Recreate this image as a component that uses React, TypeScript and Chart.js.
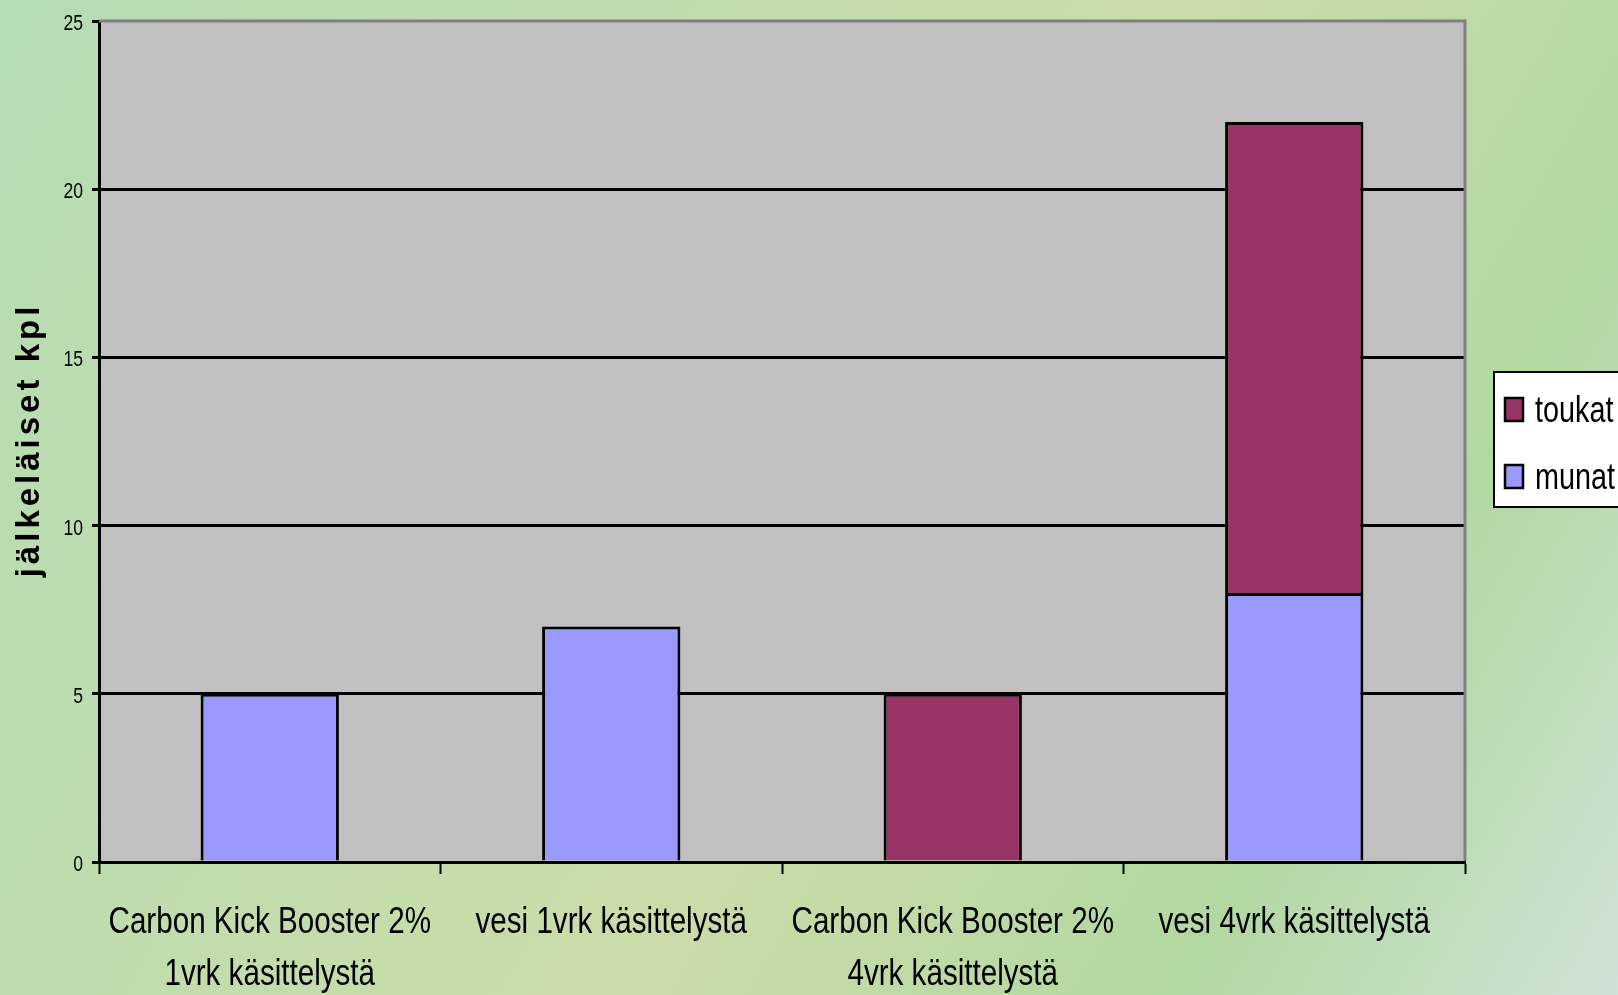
import React, { useEffect, useRef } from "react";
import { Chart, registerables } from "chart.js";

Chart.register(...registerables);

const categories: (string | string[])[] = [
  ["Carbon Kick Booster 2%", "1vrk käsittelystä"],
  "vesi 1vrk käsittelystä",
  ["Carbon Kick Booster 2%", "4vrk käsittelystä"],
  "vesi 4vrk käsittelystä",
];
const munat = [5, 7, 0, 8];
const toukat = [0, 0, 5, 14];
const yTitle = "jälkeläiset kpl";
const yMin = 0;
const yMax = 25;
const yStep = 5;

const FONT = "'Liberation Sans', Arial, sans-serif";
const SQUEEZE = 0.8;

function condensedText(ctx: CanvasRenderingContext2D, text: string, x: number, y: number, align: CanvasTextAlign) {
  ctx.save();
  ctx.translate(x, y);
  ctx.scale(SQUEEZE, 1);
  ctx.textAlign = align;
  ctx.fillText(text, 0, 0);
  ctx.restore();
}

const plotDecor = {
  id: "plotDecor",
  beforeDraw(chart: any) {
    const { ctx, chartArea: a } = chart;
    ctx.save();
    ctx.fillStyle = "#C0C0C0";
    ctx.fillRect(a.left, a.top, a.right - a.left, a.bottom - a.top);
    ctx.restore();
  },
  afterDraw(chart: any) {
    const { ctx, chartArea: a } = chart;
    ctx.save();
    ctx.strokeStyle = "#808080";
    ctx.lineWidth = 3;
    ctx.beginPath();
    ctx.moveTo(a.left, a.top);
    ctx.lineTo(a.right, a.top);
    ctx.lineTo(a.right, a.bottom - 1);
    ctx.stroke();

    // x tick labels (condensed)
    const xs = chart.scales.x;
    ctx.fillStyle = "#000";
    ctx.font = `37px ${FONT}`;
    ctx.textBaseline = "alphabetic";
    (chart.data.labels as any[]).forEach((lab: any, i: number) => {
      const lines = Array.isArray(lab) ? lab : [lab];
      const x = xs.getPixelForTick(i);
      lines.forEach((ln: string, j: number) => {
        condensedText(ctx, ln, x, a.bottom + 71 + j * 52, "center");
      });
    });

    // y tick labels (condensed)
    const ys = chart.scales.y;
    ctx.font = `22px ${FONT}`;
    ys.ticks.forEach((t: any, i: number) => {
      const y = ys.getPixelForTick(i);
      condensedText(ctx, String(t.value), a.left - 16, y + 9, "right");
    });

    // y title
    ctx.save();
    ctx.translate(30, 440);
    ctx.rotate(-Math.PI / 2);
    ctx.font = `bold 33px ${FONT}`;
    (ctx as any).letterSpacing = "4px";
    ctx.fillStyle = "#000";
    ctx.textAlign = "center";
    ctx.textBaseline = "middle";
    ctx.fillText(yTitle, 0, 0);
    ctx.restore();

    // legend
    const lx = 1494, ly = 372, lw = 140, lh = 135;
    ctx.fillStyle = "#fff";
    ctx.fillRect(lx, ly, lw, lh);
    ctx.strokeStyle = "#000";
    ctx.lineWidth = 2;
    ctx.strokeRect(lx, ly, lw, lh);
    const ds = [...chart.data.datasets].reverse();
    ds.forEach((d: any, i: number) => {
      const cy = ly + 37 + i * 67;
      ctx.fillStyle = d.backgroundColor;
      ctx.fillRect(lx + 11, cy - 11, 18, 23);
      ctx.strokeStyle = "#000";
      ctx.lineWidth = 2.5;
      ctx.strokeRect(lx + 11, cy - 11, 18, 23);
      ctx.fillStyle = "#000";
      ctx.font = `36px ${FONT}`;
      ctx.textBaseline = "alphabetic";
      condensedText(ctx, d.label, lx + 41, cy + 13, "left");
    });
    ctx.restore();
  },
};

export default function App() {
  const ref = useRef<HTMLCanvasElement>(null);
  useEffect(() => {
    if (!ref.current) return;
    const chart = new Chart(ref.current, {
      type: "bar",
      data: {
        labels: categories,
        datasets: [
          {
            label: "munat",
            data: munat,
            backgroundColor: "#9999FF",
            borderColor: "#000",
            borderWidth: 3,
            categoryPercentage: 1,
            barPercentage: 0.405,
          },
          {
            label: "toukat",
            data: toukat,
            backgroundColor: "#993366",
            borderColor: "#000",
            borderWidth: 3,
            categoryPercentage: 1,
            barPercentage: 0.405,
          },
        ],
      },
      options: {
        responsive: false,
        animation: false,
        layout: { padding: { left: 0, top: 21, right: 153, bottom: 0 } },
        plugins: { legend: { display: false }, tooltip: { enabled: false } },
        scales: {
          x: {
            stacked: true,
            grid: {
              offset: true,
              drawOnChartArea: false,
              tickLength: 12,
              tickWidth: 2,
              tickColor: "#000",
            },
            border: { display: true, color: "#000", width: 3 },
            ticks: { display: false, autoSkip: false, maxRotation: 0 },
            afterFit(scale: any) {
              scale.height = 133;
            },
          },
          y: {
            stacked: true,
            min: yMin,
            max: yMax,
            grid: {
              color: (c: any) => (c.tick && c.tick.value === yMax ? "rgba(0,0,0,0)" : "#000"),
              lineWidth: 3,
              tickLength: 7,
              tickWidth: 3,
              tickColor: "#000",
            },
            border: { display: true, color: "#000", width: 3 },
            ticks: { stepSize: yStep, display: false },
            afterFit(scale: any) {
              scale.width = 99;
            },
          },
        },
      },
      plugins: [plotDecor],
    } as any);
    return () => chart.destroy();
  }, []);
  return (
    <div
      style={{
        position: "fixed",
        left: 0,
        top: 0,
        width: 1618,
        height: 995,
        overflow: "hidden",
        background:
          "linear-gradient(120deg, #b6dcb4 0%, #c0dcae 30%, #cbdca8 55%, #b2d8a2 80%, #cfe2d6 100%)",
      }}
    >
      <canvas ref={ref} width={1618} height={995} style={{ display: "block" }} />
    </div>
  );
}
